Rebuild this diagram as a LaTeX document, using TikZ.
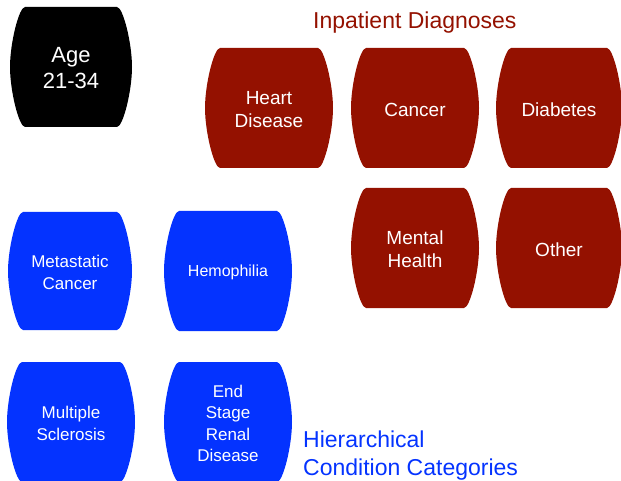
\documentclass[tikz,border=0pt]{standalone}
\usepackage{fontspec}
\setmainfont{Liberation Sans}
\definecolor{cayenne}{RGB}{148,17,0}
\definecolor{blueberry}{RGB}{4,51,255}
\newcommand\barrelfill[5]{%
  \fill[#5] ({#1+15},#2) -- ({#3-15},#2)
    .. controls ({#3-9},#2) and (#3,{#2+36}) .. (#3,{(#2+#4)/2})
    .. controls (#3,{#4-36}) and ({#3-9},#4) .. ({#3-15},#4)
    -- ({#1+15},#4)
    .. controls ({#1+9},#4) and (#1,{#4-36}) .. (#1,{(#2+#4)/2})
    .. controls (#1,{#2+36}) and ({#1+9},#2) .. cycle;}
\tikzset{
  boxtext/.style={text=white, align=center, inner sep=0pt, yshift=-1.5pt},
  agetext/.style={boxtext, font=\fontsize{22}{26}\selectfont},
  redtext/.style={boxtext, font=\fontsize{19}{23}\selectfont},
  bluetext/.style={boxtext, font=\fontsize{17}{21.5}\selectfont},
}
\begin{document}
\begin{tikzpicture}[x=1pt,y=-1pt]
\path[use as bounding box, clip] (0,0) rectangle (621,481);
% Age
\barrelfill{10}{7}{132}{127}{black}
\node[agetext] (age) at (71,67) {Age\\21-34};
% Inpatient diagnoses
\barrelfill{205}{48}{333}{168}{cayenne}
\node[redtext] (heart) at (269,108) {Heart\\Disease};
\barrelfill{351}{48}{479}{168}{cayenne}
\node[redtext] (cancer) at (415,108) {Cancer};
\barrelfill{496}{48}{622}{168}{cayenne}
\node[redtext] (diab) at (559,108) {Diabetes};
\barrelfill{351}{188}{479}{308}{cayenne}
\node[redtext] (mental) at (415,248) {Mental\\Health};
\barrelfill{496}{188}{622}{308}{cayenne}
\node[redtext] (other) at (559,248) {Other};
\node[anchor=base west, inner sep=0pt, text=cayenne, font=\fontsize{23}{28}\selectfont] (inp) at (313,29) {Inpatient Diagnoses};
% HCC
\barrelfill{8}{212}{132}{330}{blueberry}
\node[bluetext] (meta) at (70,271) {Metastatic\\Cancer};
\barrelfill{164}{211}{292}{331}{blueberry}
\node[bluetext, font=\fontsize{16}{20}\selectfont] (hemo) at (228,271) {Hemophilia};
\barrelfill{7}{362}{135}{482}{blueberry}
\node[bluetext] (ms) at (71,422) {Multiple\\Sclerosis};
\barrelfill{164}{362}{292}{482}{blueberry}
\node[bluetext] (esrd) at (228,422) {End\\Stage\\Renal\\Disease};
\node[anchor=north west, align=left, inner sep=0pt, text=blueberry, font=\fontsize{23}{28}\selectfont] (hcc) at (303,431) {Hierarchical\\Condition Categories};
\end{tikzpicture}
\end{document}
